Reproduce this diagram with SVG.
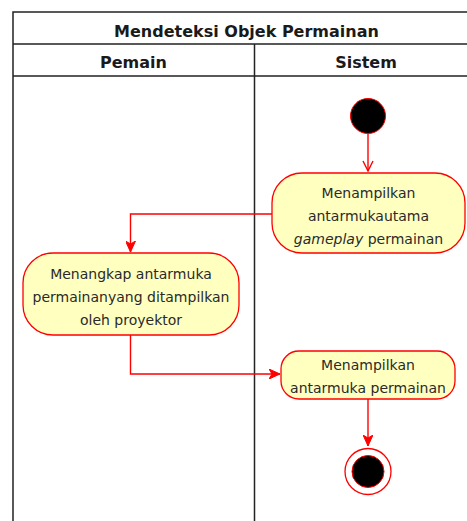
<svg xmlns="http://www.w3.org/2000/svg" width="467" height="521" viewBox="0 0 467 521">
<style>
.frame{fill:none;stroke:#222;stroke-width:1.5}
.hdr{font-family:"DejaVu Sans",Verdana,sans-serif;font-weight:bold;font-size:16px;fill:#1a1a1a;text-anchor:middle}
.node{fill:#FFFFC0;stroke:#FF0000;stroke-width:1.3}
.lbl{font-family:"DejaVu Sans",Verdana,sans-serif;font-size:14px;fill:#2a2a2a;text-anchor:middle}
.edge{fill:none;stroke:#FF0000;stroke-width:1.4}
</style>
<defs>
<marker id="open" viewBox="0 0 12 12" refX="11" refY="6" markerWidth="12" markerHeight="12" markerUnits="userSpaceOnUse" orient="auto">
<path d="M1,1 L11,6 L1,11" fill="none" stroke="#FF0000" stroke-width="1.4"/>
</marker>
<marker id="block" viewBox="0 0 12 10" refX="11" refY="5" markerWidth="12" markerHeight="10" markerUnits="userSpaceOnUse" orient="auto">
<path d="M0,0 L11,5 L0,10 L3,5 Z" fill="#FF0000" stroke="#FF0000" stroke-width="1"/>
</marker>
</defs>
<rect width="467" height="521" fill="#fff"/>
<g id="swimlane">
<path class="frame" d="M13,521 V12 H480 V521 M13,44 H480 M13,76 H480 M254.5,44 V521"/>
<text class="hdr" x="246.5" y="37">Mendeteksi Objek Permainan</text>
<text class="hdr" x="133.5" y="68">Pemain</text>
<text class="hdr" x="366" y="68">Sistem</text>
</g>
<g id="connectors">
<path class="edge" d="M368,134 V171" marker-end="url(#open)"/>
<path class="edge" d="M272,214 H130.5 V252" marker-end="url(#block)"/>
<path class="edge" d="M130.5,335 V374 H280" marker-end="url(#block)"/>
<path class="edge" d="M368,399 V446" marker-end="url(#block)"/>
</g>
<g id="start">
<circle cx="368" cy="116" r="17.5" fill="#000" stroke="#FF0000" stroke-width="1"/>
</g>
<g id="n1">
<rect class="node" x="272" y="173" width="193" height="80" rx="30" ry="30"/>
<text class="lbl" x="368.5" y="198">Menampilkan</text>
<text class="lbl" x="368.5" y="221">antarmukautama</text>
<text class="lbl" x="368.5" y="244"><tspan font-style="italic">gameplay</tspan> permainan</text>
</g>
<g id="n2">
<rect class="node" x="23" y="253" width="216" height="82" rx="30" ry="30"/>
<text class="lbl" x="131" y="279">Menangkap antarmuka</text>
<text class="lbl" x="131" y="302">permainanyang ditampilkan</text>
<text class="lbl" x="131" y="324.5">oleh proyektor</text>
</g>
<g id="n3">
<rect class="node" x="281" y="351" width="174" height="48" rx="18" ry="18"/>
<text class="lbl" x="368" y="370">Menampilkan</text>
<text class="lbl" x="368" y="393">antarmuka permainan</text>
</g>
<g id="end">
<circle cx="368" cy="471.5" r="23" fill="#fff" stroke="#FF0000" stroke-width="1.3"/>
<circle cx="368" cy="471.5" r="16" fill="#000" stroke="#FF0000" stroke-width="1"/>
</g>
</svg>
